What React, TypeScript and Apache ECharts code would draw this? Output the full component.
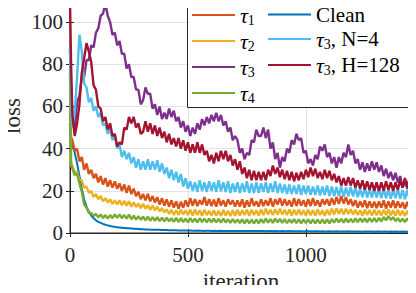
import React, { useEffect, useRef } from "react";
import * as echarts from "echarts";

// iteration grid (x values of the samples)
const ITERS: number[] = [0, 5, ...Array.from({ length: 145 }, (_, i) => (i + 1) * 10)];

const X_TICKS = [0, 500, 1000];
const Y_TICKS = [0, 20, 40, 60, 80, 100];
const X_NAME = "iteration";
const Y_NAME = "loss";

const clean = [
  50, 45,
  42, 38, 33, 27, 21, 16, 12.5, 10, 8.3, 7,
  6, 5.3, 4.8, 4.3, 3.9, 3.6, 3.3, 3.1, 2.9, 2.7,
  2.6, 2.5, 2.4, 2.3, 2.2, 2.1, 2.0, 2.0, 1.9, 1.8,
  1.8, 1.7, 1.7, 1.6, 1.6, 1.5, 1.5, 1.5, 1.4, 1.4,
  1.4, 1.3, 1.3, 1.3, 1.3, 1.2, 1.2, 1.2, 1.2, 1.2,
  1.2, 1.1, 1.1, 1.2, 1.1, 1.1, 1.0, 1.1, 1.1, 1.0,
  1.1, 1.0, 1.0, 1.1, 1.0, 1.0, 1.0, 0.9, 1.0, 1.0,
  1.0, 0.9, 0.9, 1.0, 0.9, 0.9, 0.9, 1.0, 0.9, 0.9,
  0.9, 0.9, 0.8, 0.9, 0.9, 0.8, 0.9, 0.8, 0.8, 0.9,
  0.8, 0.8, 0.9, 0.8, 0.8, 0.8, 0.8, 0.8, 0.7, 0.8,
  0.8, 0.8, 0.7, 0.8, 0.8, 0.7, 0.8, 0.7, 0.7, 0.8,
  0.7, 0.7, 0.8, 0.7, 0.7, 0.7, 0.7, 0.8, 0.7, 0.7,
  0.7, 0.7, 0.7, 0.6, 0.7, 0.7, 0.7, 0.7, 0.6, 0.7,
  0.7, 0.6, 0.7, 0.7, 0.6, 0.7, 0.6, 0.7, 0.6, 0.6,
  0.7, 0.6, 0.6, 0.7, 0.6,
];

const tau1 = [
  52, 45,
  44, 39, 40, 34, 36, 30, 33, 28, 30, 26,
  28, 24, 27, 23, 26, 22, 25, 21.5, 24.5, 21,
  23.5, 20, 23, 19, 22.5, 18.5, 21, 17.5, 19.5, 16,
  18.5, 15.5, 18.5, 15, 17.5, 14.5, 17, 13.5, 16.5, 13,
  16, 12.5, 15.5, 12, 15, 11.5, 14.8, 12, 15.5, 12.5,
  16.5, 13, 16, 12.8, 15.5, 13.5, 17, 13, 16, 12.8,
  15.8, 12.5, 16.5, 13, 15.5, 12.5, 16, 13.5, 15.5, 12.5,
  15.5, 12.5, 16, 12, 15.5, 12.5, 16.5, 12.8, 15, 12.5,
  16, 12.8, 15.5, 13, 16.5, 12.5, 16, 13.5, 16.5, 13,
  16, 13, 15.5, 12.5, 16.5, 12.8, 16, 13, 15.5, 12.5,
  16, 12.8, 16.5, 13, 15.5, 12.5, 16, 13.5, 16, 13,
  16.5, 13.5, 17, 13.8, 17.5, 14, 17, 13.5, 16, 12.8,
  15.5, 12, 15, 12.3, 15.5, 11.8, 15, 12, 14.8, 11.8,
  15, 12, 15.5, 11.5, 15, 12, 15.5, 11.8, 15, 12,
  14.5, 11.5, 14.8, 11.5, 13.5,
];

const tau2 = [
  38, 33,
  32, 29, 29, 25, 25, 21.5, 22, 19, 20, 17,
  18.5, 16, 17.5, 15, 16.5, 14.5, 16, 13.8, 15.5, 13.5,
  15.5, 13.2, 15.2, 13, 15, 12.5, 14.5, 12.3, 14, 11.8,
  13.8, 11.5, 13.2, 11, 13, 10.8, 12.5, 10.2, 11.8, 9.8,
  11.2, 9, 11, 8.5, 10.8, 8.5, 11, 8.8, 10.8, 8.5,
  11, 8.3, 11.2, 8.5, 10.8, 8.2, 11, 8.5, 10.5, 8.3,
  10.8, 8.2, 10.5, 8, 11, 8.3, 10.5, 8, 10.8, 8.2,
  11, 8.3, 10.8, 8.5, 11, 8.2, 11, 8.5, 10.8, 8.3,
  11.2, 8.5, 11.5, 8.8, 11, 8.5, 11.3, 8.8, 11.5, 8.7,
  11, 8.5, 11.2, 8.3, 11, 8.5, 11.2, 8.5, 10.8, 8.3,
  11, 8.4, 10.8, 8.3, 11.2, 8.5, 10.8, 8.2, 11, 8.5,
  11.5, 8.8, 11.8, 9, 11.5, 8.7, 11.5, 9, 11.2, 8.8,
  11, 8.5, 10.8, 8.2, 11, 8.5, 10.8, 8.3, 11, 8.4,
  10.8, 8.3, 11, 8.5, 11.2, 8.4, 10.8, 8.2, 11, 8.3,
  10.5, 8, 10.5, 8, 9.5,
];

const tau3 = [
  87, 68,
  56, 50, 62, 65, 74, 74, 82, 82, 89, 88,
  95, 97, 103, 104, 109, 103, 100, 94, 95, 89,
  91, 85, 85, 78, 80, 74, 74, 68, 68, 61,
  63, 69, 66, 66, 59, 61, 56, 60, 54, 57,
  54, 59, 55, 58, 53, 55, 50, 53, 48, 51,
  46, 50, 47, 52, 49, 54, 51, 55, 52, 56,
  53, 57, 53, 56, 51, 53, 48, 50, 44, 46,
  44, 38, 40, 35, 38, 37, 44, 43, 49, 46,
  46, 50, 45, 49, 40, 43, 35, 38, 31, 36,
  34, 40, 38, 44, 42, 47, 44, 45, 38, 39,
  33, 35, 32, 37, 35, 41, 39, 42, 36, 38,
  33, 36, 31, 36, 33, 38, 36, 42, 37, 39,
  33, 35, 30, 33.5, 29, 33, 29.5, 34, 30, 33.5,
  29, 32, 27, 30.5, 26, 29, 25, 28.5, 24, 27,
  21.5, 24.5, 21, 25.5, 24,
];

const tau4 = [
  76, 32,
  30.5, 27.5, 28, 23.5, 19.5, 13.5, 12, 9.5, 9.5, 8,
  9, 7.5, 8.8, 7, 8.5, 6.8, 8.5, 7, 8.8, 7.2,
  8.8, 7, 8.5, 6.8, 8.7, 6.5, 8.2, 6.3, 8, 6.2,
  7.8, 6, 7.8, 5.8, 7.5, 5.8, 7.5, 5.6, 7.3, 5.5,
  7.3, 5.5, 7, 5.3, 7.2, 5.2, 7, 5.2, 6.8, 5,
  7, 5.2, 6.8, 5, 7, 5.2, 6.8, 5, 6.8, 5.1,
  6.8, 5, 6.7, 4.9, 6.8, 5, 6.5, 4.8, 6.6, 4.8,
  6.5, 4.7, 6.4, 4.6, 6.5, 4.6, 6.3, 4.5, 6.4, 4.6,
  6.6, 4.8, 6.8, 4.9, 6.6, 4.8, 6.8, 5, 6.7, 4.8,
  6.6, 4.7, 6.5, 4.8, 6.6, 4.7, 6.5, 4.6, 6.4, 4.7,
  6.4, 4.6, 6.5, 4.6, 6.4, 4.5, 6.5, 4.6, 6.4, 4.6,
  6.6, 4.9, 6.8, 5, 6.7, 4.9, 6.8, 5, 6.7, 5,
  6.9, 5.1, 7, 5.2, 6.9, 5.1, 7.1, 5.3, 7, 5.2,
  7.2, 5.5, 7.6, 6, 8, 6.2, 7.5, 5.6, 7, 5.3,
  6.8, 5.2, 6.9, 5.3, 6.5,
];

const tau3N4 = [
  88, 62,
  50, 57, 74, 94, 86, 71, 69, 62, 64, 58,
  60, 55, 57, 51, 52, 47, 50, 44, 46, 40,
  42, 36, 39, 35, 38, 33, 36, 31, 35, 30,
  34, 30, 35, 30, 34, 30, 34.5, 29, 33, 28,
  31, 26, 30, 25, 29, 24, 28, 22, 26, 21,
  24.5, 20, 24, 19.5, 25, 20, 24, 19.5, 24.5, 20,
  24, 19.5, 25, 19.8, 24, 19.5, 24.5, 19, 23.5, 19.5,
  24, 19, 23.5, 19.5, 24.5, 19, 23.5, 19, 24, 19,
  23.5, 19.5, 24, 19, 23.5, 19.5, 24.5, 19, 23.5, 19,
  23, 18.5, 23, 18.5, 22.5, 18.5, 23, 18, 22.5, 18.5,
  22.5, 18, 22, 18, 22.5, 17.8, 22, 18, 22.5, 17.5,
  22, 17.5, 21.8, 17.5, 22, 17.2, 21.5, 17.5, 21.8, 17.3,
  21.5, 17, 21, 17, 21.5, 16.8, 21, 16.8, 21.2, 16.8,
  21, 16.5, 21, 16.5, 20.8, 16.3, 20.5, 16.5, 20.8, 16.2,
  20.5, 16, 20.5, 16, 18.5,
];

const tau3H128 = [
  110, 78,
  56, 46, 52, 61, 76, 83, 90, 86, 81, 70,
  68, 60, 59, 53, 55, 49, 52, 46, 47, 41,
  43, 42, 50, 49, 55, 52, 55, 50, 52, 47,
  48, 53, 48, 52, 47, 51, 46, 50, 45, 48,
  43, 47, 42, 45, 41, 45, 40, 44, 39, 43,
  38, 42, 38, 43, 38, 42, 37, 39, 34, 37,
  33, 38, 34, 39, 35, 39, 34, 37, 32, 35,
  30, 34, 28, 31, 26, 30, 25, 29.5, 25, 29,
  25, 29, 25, 30, 27, 32, 28, 31, 26.5, 30,
  25.5, 29.5, 25, 29, 24.5, 28.5, 25, 29, 25.5, 30,
  26.5, 31, 27, 30.5, 26, 29, 25.5, 30, 26, 29.5,
  25, 28, 24, 27, 22.5, 26, 22.5, 26.5, 22.5, 26,
  21.5, 25, 21, 25, 20.5, 24.5, 20.5, 24, 20, 24,
  20, 24, 20, 24.5, 20.5, 24, 20, 24, 20.5, 25,
  21.5, 26, 22, 26, 23,
];

const SERIES_NAMES = ["Clean", "τ1", "τ2", "τ3", "τ4", "τ3, N=4", "τ3, H=128"];
const SERIES_VALUES = [clean, tau1, tau2, tau3, tau4, tau3N4, tau3H128];
const SERIES_COLORS = ["#0072BD", "#D95319", "#EDB120", "#7E2F8E", "#77AC30", "#4DBEEE", "#A2142F"];
const LEGEND_COL1 = ["τ1", "τ2", "τ3", "τ4"];
const LEGEND_COL2 = ["Clean", "τ3, N=4", "τ3, H=128"];

const FONT = "Liberation Serif, Times New Roman, DejaVu Serif, serif";
const AX = "#262626";

function legendLabel(name: string): string {
  const m = name.match(/^τ(\d)(.*)$/);
  if (!m) return `{n|${name}}`;
  return `{t|τ}{s|${m[1]}}` + (m[2] ? `{n|${m[2]}}` : "");
}

const rich = {
  t: { fontFamily: FONT, fontSize: 22, fontStyle: "italic", lineHeight: 24, color: "#000" },
  s: { fontFamily: FONT, fontSize: 14, lineHeight: 14, verticalAlign: "bottom", color: "#000" },
  n: { fontFamily: FONT, fontSize: 21, lineHeight: 24, color: "#000" },
};

export default function App() {
  const ref = useRef<HTMLDivElement>(null);
  useEffect(() => {
    if (!ref.current) return;
    const chart = echarts.init(ref.current, undefined, { renderer: "svg" });
    const legendCommon = {
      orient: "vertical",
      top: 4,
      padding: 0,
      icon: "rect",
      itemWidth: 43,
      itemHeight: 2,
      itemGap: 3,
      selectedMode: false,
      formatter: legendLabel,
      textStyle: { rich, fontFamily: FONT, fontSize: 21, color: "#000" },
      z: 5,
    };
    chart.setOption({
      animation: false,
      backgroundColor: "#fff",
      textStyle: { fontFamily: FONT },
      grid: {
        left: 70, right: 4, top: 1, bottom: 60,
        outerBoundsMode: "none",
        containLabel: false,
        show: true, borderColor: AX, borderWidth: 1, backgroundColor: "transparent",
      },
      xAxis: [
        {
          type: "value",
          min: 0,
          max: 1450,
          interval: 500,
          axisLine: { lineStyle: { color: AX } },
          axisTick: { inside: true, length: 4, lineStyle: { color: AX } },
          axisLabel: {
            fontFamily: FONT,
            fontSize: 21,
            color: AX,
            margin: 11,
            showMaxLabel: false,
            formatter: (v: number) => (X_TICKS.includes(v) ? String(v) : ""),
          },
          splitLine: { show: true, lineStyle: { color: "#e3e3e3", width: 1 } },
        },
        {
          type: "value",
          position: "top",
          min: 0,
          max: 1450,
          interval: 500,
          axisLine: { lineStyle: { color: AX } },
          axisTick: { inside: true, length: 4, lineStyle: { color: AX } },
          axisLabel: { show: false },
          splitLine: { show: false },
        },
      ],
      yAxis: [
        {
          type: "value",
          min: 0,
          max: 110,
          interval: 20,
          axisLine: { show: true, lineStyle: { color: AX } },
          axisTick: { show: true, inside: true, length: 4, lineStyle: { color: AX } },
          axisLabel: {
            fontFamily: FONT,
            fontSize: 21,
            color: AX,
            margin: 7,
            showMaxLabel: false,
            formatter: (v: number) => (Y_TICKS.includes(v) ? String(v) : ""),
          },
          splitLine: { show: true, lineStyle: { color: "#e3e3e3", width: 1 } },
        },
        {
          type: "value",
          position: "right",
          min: 0,
          max: 110,
          interval: 20,
          axisLine: { show: true, lineStyle: { color: AX } },
          axisTick: { show: true, inside: true, length: 4, lineStyle: { color: AX } },
          axisLabel: { show: false },
          splitLine: { show: false },
        },
      ],
      legend: [
        { ...legendCommon, left: 192, data: LEGEND_COL1 },
        { ...legendCommon, left: 268, data: LEGEND_COL2 },
      ],
      graphic: [
        {
          type: "rect",
          z: 4,
          shape: { x: 187.5, y: 0.5, width: 225, height: 107 },
          style: { fill: "#fff", stroke: AX, lineWidth: 1 },
        },
        {
          type: "text",
          z: 5,
          x: 241,
          y: 270,
          style: {
            text: X_NAME,
            fontFamily: FONT,
            fontSize: 23,
            fill: AX,
            align: "center",
            verticalAlign: "top",
          },
        },
        {
          type: "text",
          z: 5,
          x: 1,
          y: 116,
          rotation: Math.PI / 2,
          style: {
            text: Y_NAME,
            fontFamily: FONT,
            fontSize: 23,
            fill: AX,
            align: "center",
            verticalAlign: "top",
          },
        },
      ],
      series: SERIES_NAMES.map((name, k) => ({
        name,
        type: "line",
        symbol: "none",
        xAxisIndex: 0,
        yAxisIndex: 0,
        color: SERIES_COLORS[k],
        lineStyle: { width: k === 0 ? 2 : 2.4, color: SERIES_COLORS[k] },
        data: ITERS.map((x, i) => [x, SERIES_VALUES[k][i]]),
        clip: true,
      })),
    });
    return () => chart.dispose();
  }, []);
  return <div ref={ref} style={{ width: 416, height: 293, margin: -8 }} />;
}
